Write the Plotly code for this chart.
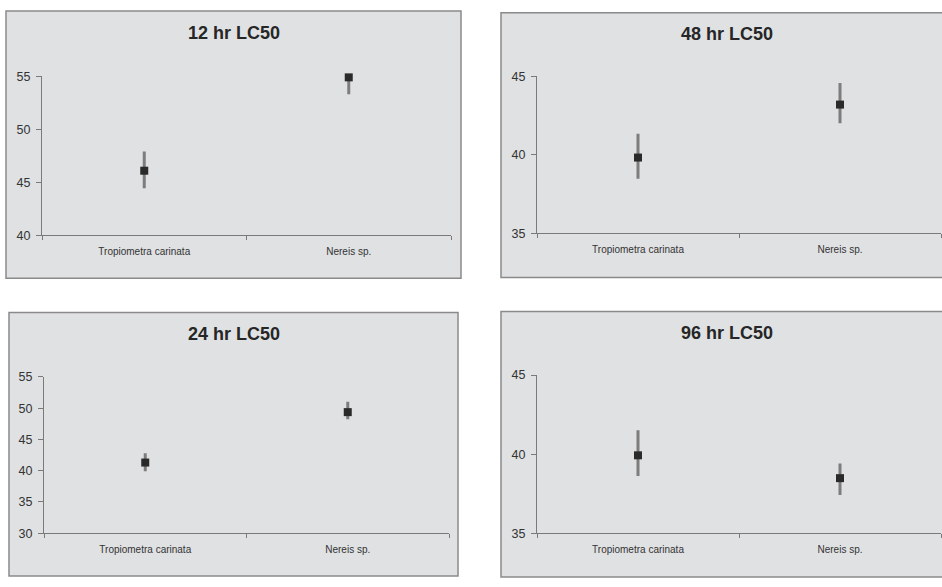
import plotly.graph_objects as go

W, H = 942, 587

categories = ["Tropiometra carinata", "Nereis sp."]
titles = ["12 hr LC50", "48 hr LC50", "24 hr LC50", "96 hr LC50"]

lc50_12 = [46.1, 54.9]
upper_12 = [47.9, 55.3]
lower_12 = [44.45, 53.3]

lc50_48 = [39.83, 43.2]
upper_48 = [41.34, 44.58]
lower_48 = [38.48, 42.02]

lc50_24 = [41.3, 49.37]
upper_24 = [42.77, 51.04]
lower_24 = [39.9, 48.23]

lc50_96 = [39.93, 38.49]
upper_96 = [41.51, 39.41]
lower_96 = [38.63, 37.42]

y_ranges = [[40, 55], [35, 45], [30, 55], [35, 45]]
y_dticks = [5, 5, 5, 5]

series = [
    (lc50_12, upper_12, lower_12),
    (lc50_48, upper_48, lower_48),
    (lc50_24, upper_24, lower_24),
    (lc50_96, upper_96, lower_96),
]

def px(x):
    return x / W

def py(y):
    return 1 - y / H

areas = [
    (42, 451, 71, 234),
    (537, 941, 71, 232),
    (44, 449, 379, 539),
    (537, 941, 377, 539.3),
]
boxes = [
    (6, 4, 461, 278),
    (501, 6, 946, 277),
    (9, 313, 458, 583),
    (501, 312, 946, 584),
]
title_pos = [(234, 27), (727, 28), (234, 335), (727, 334)]

fig = go.Figure()
layout = dict(
    width=W, height=H,
    margin=dict(l=0, r=0, t=0, b=0),
    paper_bgcolor="white",
    plot_bgcolor="rgba(0,0,0,0)",
    showlegend=False,
    shapes=[], annotations=[],
)

axis_color = "#7a7a7a"
tick_font = dict(family="Liberation Sans Narrow, Arial Narrow, Liberation Sans, Arial", size=12.5, color="#333333")
cat_font = dict(family="Liberation Sans Narrow, Arial Narrow, Liberation Sans, Arial", size=10, color="#333333")

for i, (vals, up, lo) in enumerate(series):
    n = i + 1
    xa = "x" if n == 1 else f"x{n}"
    ya = "y" if n == 1 else f"y{n}"
    fig.add_trace(go.Scatter(
        x=categories, y=vals, mode="markers",
        xaxis=xa, yaxis=ya,
        cliponaxis=False,
        marker=dict(symbol="square", size=8, color="#2a2a2a"),
        error_y=dict(
            type="data", symmetric=False,
            array=[u - v for u, v in zip(up, vals)],
            arrayminus=[v - l for v, l in zip(vals, lo)],
            thickness=3, width=0, color="#7d7d7d",
        ),
    ))
    l, r, t, b = areas[i]
    xkey = "xaxis" if n == 1 else f"xaxis{n}"
    ykey = "yaxis" if n == 1 else f"yaxis{n}"
    layout[xkey] = dict(
        domain=[px(l), px(r)], anchor=ya,
        type="category", range=[-0.5, 1.5],
        showgrid=False, zeroline=False,
        showline=True, linecolor=axis_color, linewidth=1,
        ticks="outside", tickson="boundaries", ticklen=4, tickcolor=axis_color,
        tickfont=cat_font, ticklabelstandoff=7,
    )
    layout[ykey] = dict(
        domain=[py(b), py(t)], anchor=xa,
        range=y_ranges[i], dtick=y_dticks[i], tick0=0,
        showgrid=False, zeroline=False,
        showline=True, linecolor=axis_color, linewidth=1,
        ticks="outside", ticklen=5, tickcolor=axis_color,
        tickfont=tick_font, ticklabelstandoff=3,
    )
    x0, y0, x1, y1 = boxes[i]
    layout["shapes"].append(dict(
        type="rect", xref="paper", yref="paper",
        x0=px(x0), x1=px(x1), y0=py(y1), y1=py(y0),
        fillcolor="#e0e1e3", line=dict(color="#8a8a8a", width=1.5),
        layer="below",
    ))
    tx, ty = title_pos[i]
    layout["annotations"].append(dict(
        text=f"<b>{titles[i]}</b>", xref="paper", yref="paper",
        x=px(tx), y=py(ty), xanchor="center", yanchor="middle",
        showarrow=False,
        font=dict(family="Liberation Sans, Arial", size=18, color="#262626"),
    ))

fig.update_layout(**layout)
post = (
    "var h=document.documentElement;h.style.margin='0';h.style.overflow='hidden';"
    "h.style.height='587px';"
    "document.body.style.margin='0';document.body.style.overflow='hidden';"
    "document.body.style.height='587px';"
    "var d=document.getElementById('{plot_id}');"
    "d.style.position='fixed';d.style.top='0px';d.style.left='0px';"
)
fig.write_html(
    "out.html",
    config={"displayModeBar": False},
    post_script=post,
)
